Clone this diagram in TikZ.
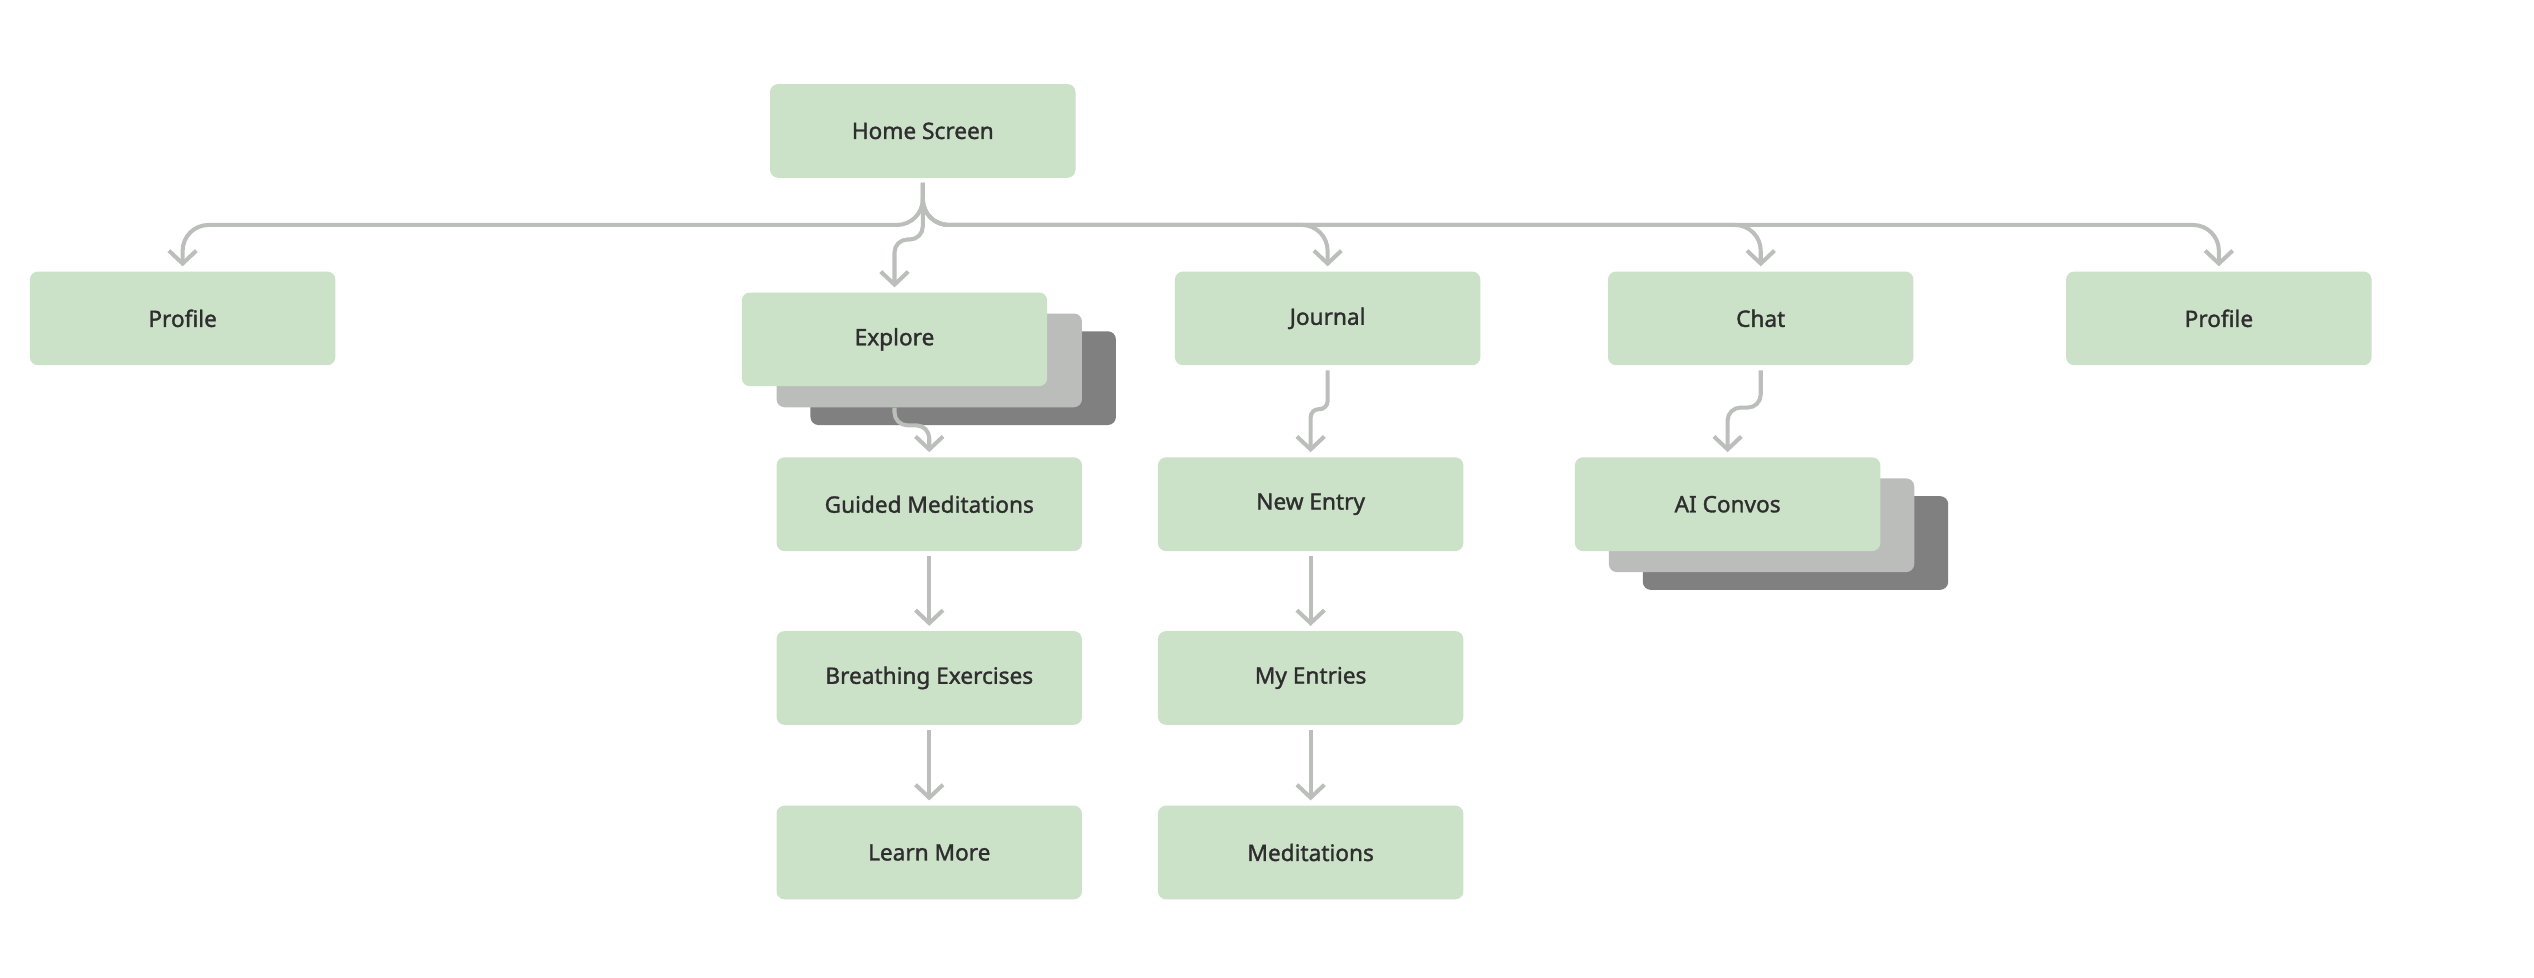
\documentclass[tikz,border=0pt]{standalone}
\usepackage{fontspec}
\newfontfamily\boxfont[FakeBold=1.4]{Noto Sans}
\usetikzlibrary{arrows.meta,calc}
\definecolor{boxgreen}{HTML}{CBE1C8}
\definecolor{layerlight}{HTML}{BBBDBB}
\definecolor{layerdark}{HTML}{7F807F}
\definecolor{linkgray}{HTML}{BCBEBC}
\definecolor{textdark}{HTML}{2E2E2E}

\begin{document}
\begin{tikzpicture}[x=1pt,y=-1pt,>={Straight Barb[length=8pt,width=17pt]},
  box/.style={rectangle,rounded corners=5pt,fill=boxgreen,minimum width=189pt,
    minimum height=58pt,inner sep=0pt,font=\boxfont\fontsize{14}{16}\selectfont,text=textdark},
  layerB/.style={box,fill=layerlight},layerC/.style={box,fill=layerdark},
  conn/.style={->,line width=2.5pt,draw=linkgray,shorten <=3pt,shorten >=3pt}]
  \useasboundingbox (0,0) rectangle (1568,605);
  % ---------------- top level ----------------
  \node[box] (home) at (571,81) {Home Screen};
  \node[box] (profileL) at (113,197) {Profile};
  \node[layerC] (exploreC) at (596,234) {};
  \node[layerB] (exploreB) at (575,223) {};
  \node[box] (explore) at (553.5,210) {Explore};
  \node[box] (journal) at (821.5,197) {Journal};
  \node[box] (chat) at (1089.5,197) {Chat};
  \node[box] (profileR) at (1373,197) {Profile};
  % ---------------- explore column ----------------
  \node[box] (guided) at (575,312) {Guided Meditations};
  \node[box] (breathing) at (575,419.5) {Breathing Exercises};
  \node[box] (learn) at (575,527.5) {Learn More};
  % ---------------- journal column ----------------
  \node[box] (newentry) at (811,312) {New Entry};
  \node[box] (myentries) at (811,419.5) {My Entries};
  \node[box] (meditations) at (811,527.5) {Meditations};
  % ---------------- chat column ----------------
  \node[layerC] (aiC) at (1111,336) {};
  \node[layerB] (aiB) at (1090,325) {};
  \node[box] (aiconvos) at (1069,312) {AI Convos};
  % ---------------- links from home ----------------
  \foreach \dest in {profileL,journal,chat,profileR}
    \draw[conn,rounded corners=16pt] (home.south) -- ++(0,29) -| (\dest.north);
  \draw[conn,rounded corners=8pt] (home.south) -- ++(0,38) -| (explore.north);
  % ---------------- links inside columns ----------------
  \draw[conn,rounded corners=8pt,shorten <=0pt] (explore.south |- exploreB.south)
    -- ++(0,11) -| (guided.north);
  \draw[conn] (guided) -- (breathing);
  \draw[conn] (breathing) -- (learn);
  \draw[conn,rounded corners=5pt] (journal.south) -- ++(0,27) -| (newentry.north);
  \draw[conn] (newentry) -- (myentries);
  \draw[conn] (myentries) -- (meditations);
  \draw[conn,rounded corners=8pt] (chat.south) -- ++(0,26) -| (aiconvos.north);
\end{tikzpicture}
\end{document}
